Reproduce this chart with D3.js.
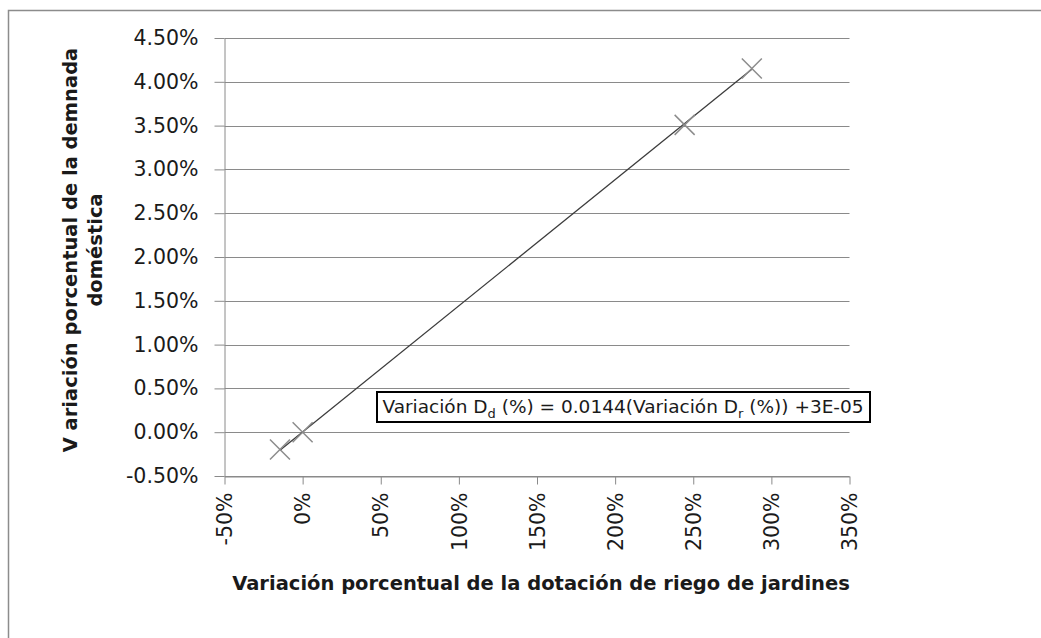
<!DOCTYPE html>
<html>
<head>
<meta charset="utf-8">
<script src="https://cdn.jsdelivr.net/npm/d3@7"></script>
<style>
  body { margin: 0; background: #fff; }
  svg { display: block; }
  text { font-family: "DejaVu Sans", sans-serif; fill: #1a1a1a; }
</style>
</head>
<body>
<svg id="chart"></svg>
<script>
// measured points: dotación de riego (x) vs demanda doméstica (y)
const riegoVar = [-0.145, 0, 2.445, 2.875];
const demandaVar = [-0.00197, 0, 0.03508, 0.04151];
const yTicks = [-0.005, 0, 0.005, 0.01, 0.015, 0.02, 0.025, 0.03, 0.035, 0.04, 0.045];
const xTicks = [-0.5, 0, 0.5, 1, 1.5, 2, 2.5, 3, 3.5];
const trendSlope = 0.0144;
const trendIntercept = 0.00003;

const WIDTH = 1041;
const HEIGHT = 638;
const PLOT = {left: 224.5, right: 849.5, top: 38, bottom: 476};

// plain hyphen for negatives, like the spreadsheet
const loc = d3.formatLocale({decimal: '.', thousands: ',', grouping: [3], currency: ['', ''], minus: '-'});

const svg = d3.select('#chart')
  .attr('width', WIDTH)
  .attr('height', HEIGHT);

// outer chart frame (runs past the picture edges)
svg.append('rect')
  .attr('x', 8.5).attr('y', 10.5)
  .attr('width', 1100).attr('height', 700)
  .attr('fill', 'none')
  .attr('stroke', '#8c8c8c')
  .attr('stroke-width', 1.5);

const x = d3.scaleLinear().domain([-0.5, 3.5]).range([PLOT.left, PLOT.right]);
const y = d3.scaleLinear().domain([-0.005, 0.045]).range([PLOT.bottom, PLOT.top]);

// horizontal gridlines
svg.append('g')
  .selectAll('line')
  .data(yTicks)
  .enter()
  .append('line')
  .attr('x1', PLOT.left).attr('x2', PLOT.right)
  .attr('y1', (d) => Math.round(y(d)) + 0.5)
  .attr('y2', (d) => Math.round(y(d)) + 0.5)
  .attr('stroke', '#8a8a8a')
  .attr('stroke-width', 1);

const yAxis = d3.axisLeft(y)
  .tickValues(yTicks)
  .tickFormat(loc.format('.2%'))
  .tickSizeInner(10)
  .tickSizeOuter(0)
  .tickPadding(16);

const xAxis = d3.axisBottom(x)
  .tickValues(xTicks)
  .tickFormat(loc.format('.0%'))
  .tickSizeInner(8)
  .tickSizeOuter(0);

const gy = svg.append('g')
  .attr('transform', `translate(${PLOT.left},0)`)
  .call(yAxis);
gy.selectAll('.tick text')
  .style('font-size', '20.5px')
  .style('fill', '#1a1a1a');

const gx = svg.append('g')
  .attr('transform', `translate(0,${Math.round(y(-0.005)) + 0.5})`)
  .call(xAxis);
gx.selectAll('.tick text')
  .style('font-size', '20.5px')
  .style('fill', '#1a1a1a')
  .attr('text-anchor', 'end')
  .attr('transform', 'rotate(-90)')
  .attr('x', -16)
  .attr('y', 0)
  .attr('dy', '0.35em');

svg.selectAll('.domain, .tick line')
  .attr('stroke', '#8a8a8a')
  .attr('stroke-width', 1);

// linear trendline across the data range
const xExt = d3.extent(riegoVar);
svg.append('line')
  .attr('x1', x(xExt[0])).attr('y1', y(trendSlope * xExt[0] + trendIntercept))
  .attr('x2', x(xExt[1])).attr('y2', y(trendSlope * xExt[1] + trendIntercept))
  .attr('stroke', '#3c3c3c')
  .attr('stroke-width', 1.3);

// X markers
const pts = riegoVar.map((v, i) => ({x: v, y: demandaVar[i]}));
svg.append('g')
  .selectAll('path')
  .data(pts)
  .enter()
  .append('path')
  .attr('d', (d) => {
    const cx = x(d.x), cy = y(d.y), r = 10;
    return `M${cx - r},${cy - r}L${cx + r},${cy + r}M${cx - r},${cy + r}L${cx + r},${cy - r}`;
  })
  .attr('fill', 'none')
  .attr('stroke', '#8c8c8c')
  .attr('stroke-width', 1.5);

// equation label
svg.append('rect')
  .attr('x', 377).attr('y', 392)
  .attr('width', 493).attr('height', 30)
  .attr('fill', '#fff')
  .attr('stroke', '#000')
  .attr('stroke-width', 2);

const eq = svg.append('text')
  .attr('x', 623).attr('y', 413)
  .attr('text-anchor', 'middle')
  .style('font-size', '18.5px');
eq.append('tspan').text('Variación D');
eq.append('tspan').attr('dy', 5).style('font-size', '13px').text('d');
eq.append('tspan').attr('dy', -5).text(' (%) = 0.0144(Variación D');
eq.append('tspan').attr('dy', 5).style('font-size', '13px').text('r');
eq.append('tspan').attr('dy', -5).text(' (%)) +3E-05');

// axis titles
svg.append('text')
  .attr('x', 541).attr('y', 590)
  .attr('text-anchor', 'middle')
  .style('font-size', '19.5px')
  .style('font-weight', 'bold')
  .text('Variación porcentual de la dotación de riego de jardines');

const yTitle = svg.append('text')
  .attr('transform', 'translate(77,250) rotate(-90)')
  .attr('text-anchor', 'middle')
  .style('font-size', '19.5px')
  .style('font-weight', 'bold');
yTitle.append('tspan').attr('x', 0).attr('y', 0).text('V ariación porcentual de la demnada');
yTitle.append('tspan').attr('x', 0).attr('y', 25).text('doméstica');
</script>
</body>
</html>
